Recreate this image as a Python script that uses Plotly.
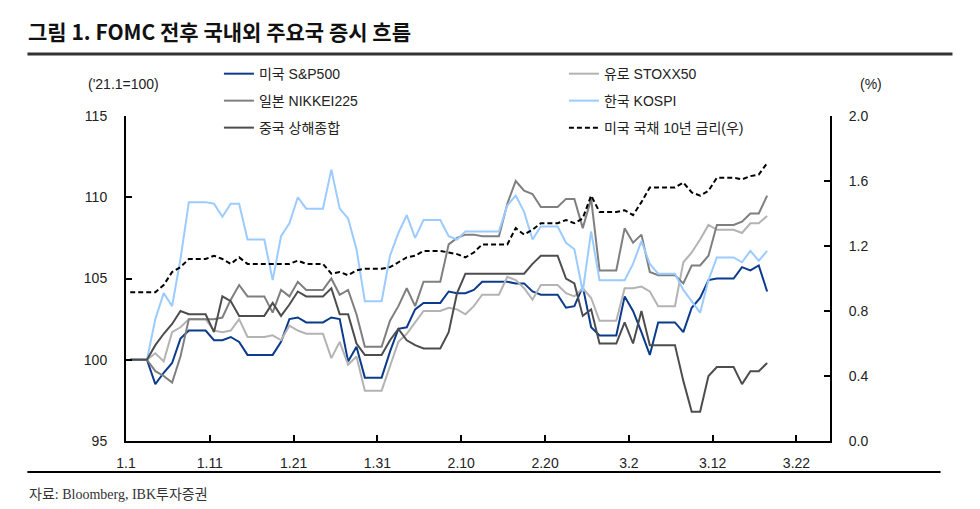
import plotly.graph_objects as go
import pandas as pd

# daily values, 2021-01-01 .. 2021-03-18 (weekends/holidays carried forward)
dates = pd.date_range("2021-01-01 12:00", periods=77, freq="D")

sp500 = [100.0, 100.0, 100.0, 98.5, 99.2, 99.8, 101.3, 101.8, 101.8, 101.8,
         101.2, 101.2, 101.4, 101.1, 100.3, 100.3, 100.3, 100.3, 101.1, 102.5,
         102.6, 102.3, 102.3, 102.3, 102.6, 102.5, 99.9, 100.8, 98.9, 98.9,
         98.9, 100.5, 101.9, 102.0, 103.1, 103.5, 103.5, 103.5, 104.2, 104.1,
         104.1, 104.3, 104.8, 104.8, 104.8, 104.8, 104.7, 104.7, 104.2, 104.0,
         104.0, 104.0, 103.2, 103.3, 104.5, 102.0, 101.5, 101.5, 101.5, 103.9,
         103.0, 101.7, 100.3, 102.3, 102.3, 102.3, 101.7, 103.2, 103.8, 104.9,
         105.0, 105.0, 105.0, 105.7, 105.5, 105.8, 104.2]

stoxx50 = [100.0, 100.0, 100.0, 100.4, 99.9, 101.7, 102.0, 102.5, 102.5, 102.5,
           101.8, 101.7, 101.8, 102.5, 101.4, 101.4, 101.4, 101.5, 101.2, 102.1,
           101.8, 101.6, 101.6, 101.6, 100.1, 101.1, 99.7, 100.2, 98.1, 98.1,
           98.1, 99.6, 101.1, 101.6, 102.3, 103.0, 103.0, 103.0, 103.2, 103.1,
           102.8, 103.3, 104.0, 104.0, 104.0, 105.1, 104.9, 104.4, 103.7, 104.6,
           104.6, 104.6, 104.1, 103.9, 104.4, 103.8, 102.4, 102.4, 102.4, 104.4,
           104.4, 104.5, 104.2, 103.3, 103.3, 103.3, 106.0, 106.6, 107.4, 108.3,
           108.0, 108.0, 108.0, 107.8, 108.4, 108.4, 108.85]

nikkei225 = [100.0, 100.0, 100.0, 99.3, 99.0, 98.6, 100.2, 102.5, 102.5, 102.5,
             102.5, 102.6, 103.7, 104.6, 103.9, 103.9, 103.9, 102.9, 104.3, 103.9,
             104.8, 104.3, 104.3, 104.3, 105.0, 104.0, 104.3, 102.8, 100.8, 100.8,
             100.8, 102.4, 103.3, 104.4, 103.3, 104.8, 104.8, 104.8, 107.1, 107.5,
             107.7, 107.7, 107.6, 107.6, 107.6, 109.6, 111.0, 110.4, 110.2, 109.4,
             109.4, 109.4, 109.9, 109.9, 108.1, 109.9, 105.5, 105.5, 105.5, 108.1,
             107.2, 107.7, 105.4, 105.2, 105.2, 105.2, 104.7, 105.8, 105.8, 106.4,
             108.3, 108.3, 108.3, 108.5, 109.0, 109.0, 110.1]

kospi = [100.0, 100.0, 100.0, 102.5, 104.1, 103.3, 106.2, 109.7, 109.7, 109.7,
         109.6, 108.8, 109.6, 109.6, 107.4, 107.4, 107.4, 104.9, 107.6, 108.4,
         110.0, 109.3, 109.3, 109.3, 111.7, 109.3, 108.7, 106.8, 103.6, 103.6,
         103.6, 106.4, 107.8, 108.9, 107.5, 108.6, 108.6, 108.6, 107.6, 107.4,
         107.9, 107.9, 107.9, 107.9, 107.9, 109.5, 110.1, 109.1, 107.4, 108.2,
         108.2, 108.2, 107.2, 106.8, 104.2, 107.9, 104.9, 104.9, 104.9, 104.9,
         105.9, 107.3, 105.9, 105.3, 105.3, 105.3, 104.3, 103.6, 102.9, 104.9,
         106.3, 106.3, 106.3, 106.0, 106.7, 106.1, 106.7]

shanghai = [100.0, 100.0, 100.0, 100.9, 101.6, 102.2, 103.0, 102.8, 102.8, 102.8,
            101.7, 103.9, 103.6, 102.7, 102.7, 102.7, 102.7, 103.5, 102.7, 103.4,
            104.2, 103.9, 103.9, 103.9, 104.4, 102.8, 102.8, 101.0, 100.3, 100.3,
            100.3, 101.2, 101.9, 101.2, 100.9, 100.7, 100.7, 100.7, 101.7, 104.1,
            105.3, 105.3, 105.3, 105.3, 105.3, 105.3, 105.3, 105.3, 105.9, 106.4,
            106.4, 106.4, 105.0, 104.7, 102.7, 103.1, 101.0, 101.0, 101.0, 102.3,
            101.0, 103.0, 100.9, 100.9, 100.9, 100.9, 98.7, 96.8, 96.8, 99.0,
            99.55, 99.55, 99.55, 98.5, 99.3, 99.3, 99.8]

ust10y = [0.915, 0.915, 0.915, 0.915, 0.96, 1.04, 1.07, 1.12, 1.12, 1.12,
          1.14, 1.12, 1.09, 1.13, 1.09, 1.09, 1.09, 1.09, 1.09, 1.09,
          1.11, 1.09, 1.09, 1.09, 1.03, 1.04, 1.02, 1.05, 1.06, 1.06,
          1.06, 1.07, 1.10, 1.13, 1.14, 1.17, 1.17, 1.17, 1.16, 1.15,
          1.13, 1.16, 1.21, 1.21, 1.21, 1.21, 1.31, 1.27, 1.30, 1.34,
          1.34, 1.34, 1.36, 1.34, 1.37, 1.51, 1.41, 1.41, 1.41, 1.42,
          1.39, 1.47, 1.56, 1.56, 1.56, 1.56, 1.59, 1.53, 1.51, 1.54,
          1.62, 1.62, 1.62, 1.61, 1.63, 1.64, 1.71]

tick_dates = ["2021-01-01", "2021-01-11", "2021-01-21", "2021-01-31", "2021-02-10",
              "2021-02-20", "2021-03-02", "2021-03-12", "2021-03-22"]
tick_text = ["1.1", "1.11", "1.21", "1.31", "2.10", "2.20", "3.2", "3.12", "3.22"]

FONT = "Liberation Sans, Noto Sans CJK KR, sans-serif"

# page body adds an 8px margin, so the figure is drawn 8px smaller
W, H = 972, 501


def configure_plot():
    fig = go.Figure()
    series = [
        ("미국 S&P500", sp500, "#0b3b8c", "solid", "legend", "y"),
        ("유로 STOXX50", stoxx50, "#b3b3b3", "solid", "legend", "y"),
        ("일본 NIKKEI225", nikkei225, "#7f7f7f", "solid", "legend2", "y"),
        ("한국 KOSPI", kospi, "#9bcbff", "solid", "legend2", "y"),
        ("중국 상해종합", shanghai, "#4d4d4d", "solid", "legend3", "y"),
        ("미국 국채 10년 금리(우)", ust10y, "#000000", "5px,3px", "legend3", "y2"),
    ]
    for name, vals, color, dash, leg, yax in series:
        fig.add_trace(go.Scatter(x=dates, y=vals, name=name, mode="lines",
                                 line=dict(color=color, width=2, dash=dash),
                                 legend=leg, yaxis=yax))
    return fig


def customize_layout(fig):
    leg = dict(orientation="h", x=0.132, xanchor="left", yanchor="middle",
               entrywidth=300, entrywidthmode="pixels",
               font=dict(size=14, color="#222"), bgcolor="rgba(0,0,0,0)")
    fig.update_layout(
        width=W, height=H,
        margin=dict(l=118, r=150, t=108, b=68),
        paper_bgcolor="white", plot_bgcolor="white",
        font=dict(family=FONT, size=14, color="#222"),
        title=dict(text="그림 1. FOMC 전후 국내외 주요국 증시 흐름",
                   x=20 / W, xanchor="left", y=1 - 25 / H, yanchor="middle",
                   font=dict(family="Noto Sans CJK KR", size=21, color="#111", weight="bold")),
        legend=dict(leg, y=1.129),
        legend2=dict(leg, y=1.046),
        legend3=dict(leg, y=0.963),
        xaxis=dict(range=["2021-01-01", "2021-03-26"], tickvals=tick_dates, ticktext=tick_text,
                   showline=True, linecolor="black", linewidth=2, ticks="inside",
                   ticklen=6, tickwidth=2, tickcolor="black", showgrid=False,
                   zeroline=False, ticklabelstandoff=8, tickfont=dict(size=14)),
        yaxis=dict(range=[95, 115], dtick=5, showline=True, linecolor="black", linewidth=2,
                   ticks="inside", ticklen=6, tickwidth=2, tickcolor="black",
                   showgrid=False, zeroline=False, ticklabelstandoff=14),
        yaxis2=dict(range=[0, 2.0], dtick=0.4, tickformat=".1f", overlaying="y", side="right",
                    showline=True, linecolor="black", linewidth=2, ticks="inside",
                    ticklen=6, tickwidth=2, tickcolor="black", showgrid=False,
                    zeroline=False, ticklabelstandoff=14),
        shapes=[
            dict(type="line", xref="paper", yref="paper", x0=-0.140, x1=1.174,
                 y0=1.191, y1=1.191, line=dict(color="#333", width=3)),
            dict(type="line", xref="paper", yref="paper", x0=-0.140, x1=1.157,
                 y0=-0.095, y1=-0.095, line=dict(color="black", width=2)),
        ],
        annotations=[
            dict(text="('21.1=100)", xref="paper", yref="paper", x=-0.004, y=1.098,
                 xanchor="center", yanchor="middle", showarrow=False, font=dict(size=14)),
            dict(text="(%)", xref="paper", yref="paper", x=1.058, y=1.098,
                 xanchor="center", yanchor="middle", showarrow=False, font=dict(size=14)),
            dict(text="자료: Bloomberg, IBK투자증권", xref="paper", yref="paper",
                 x=-0.140, y=-0.166, xanchor="left", yanchor="middle", showarrow=False,
                 font=dict(family="Liberation Serif, Noto Sans CJK KR, serif", size=14, color="#333")),
        ],
    )
    return fig


fig = configure_plot()
fig = customize_layout(fig)
fig.write_html("out.html")
